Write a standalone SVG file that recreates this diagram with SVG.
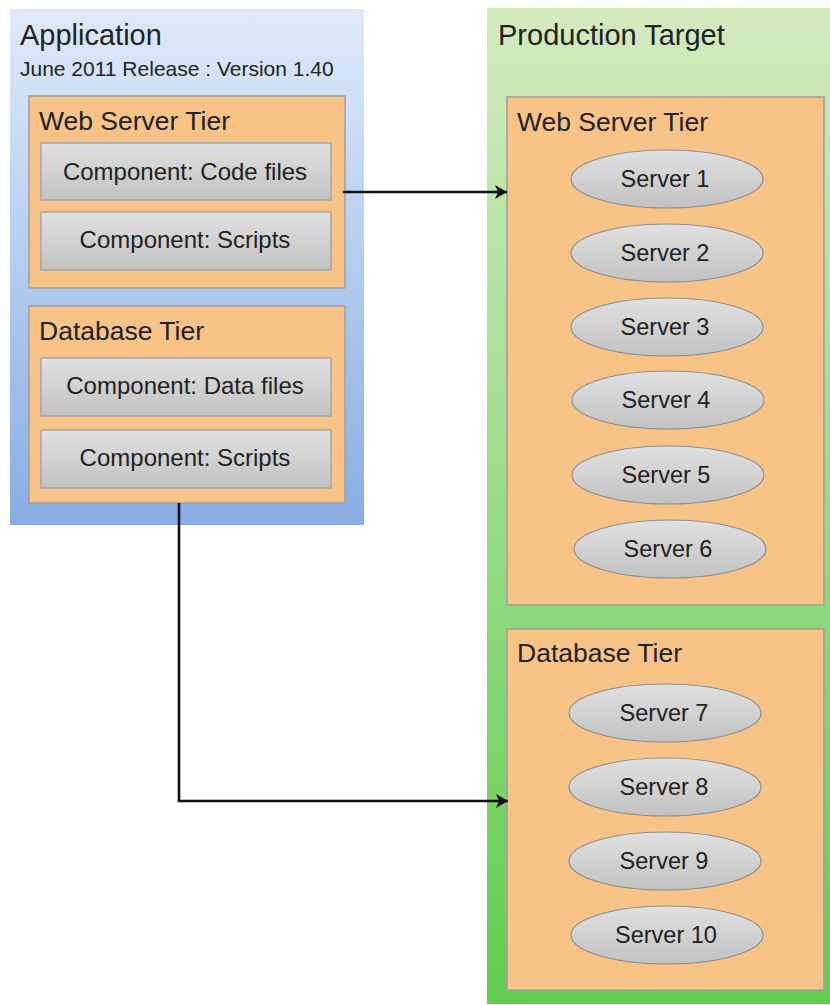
<svg xmlns="http://www.w3.org/2000/svg" width="830" height="1005" viewBox="0 0 830 1005">
<defs>
<linearGradient id="gBlue" x1="0" y1="0" x2="0" y2="1"><stop offset="0" stop-color="#dfeafa"/><stop offset="1" stop-color="#88ade2"/></linearGradient>
<linearGradient id="gGreen" x1="0" y1="0" x2="0" y2="1"><stop offset="0" stop-color="#d4ebc0"/><stop offset="1" stop-color="#60cc50"/></linearGradient>
<linearGradient id="gGray" x1="0" y1="0" x2="0" y2="1"><stop offset="0" stop-color="#e0e0e0"/><stop offset="1" stop-color="#c2c2c2"/></linearGradient>
<marker id="arr" viewBox="0 0 12 14" refX="12" refY="7" markerWidth="12" markerHeight="14" markerUnits="userSpaceOnUse" orient="auto"><path d="M0,0 L12,7 L0,14 L3,7 Z" fill="#111"/></marker>
<style>
text{font-family:"Liberation Sans",Arial,sans-serif;fill:#222}
.title{font-size:29px}
.sub{font-size:21px}
.tier{fill:#f8c387;stroke:#a0a0a0;stroke-width:1.5}
.tl{font-size:26.5px}
.comp{fill:url(#gGray);stroke:#a6a6a6;stroke-width:1.5}
.ct{font-size:24px;text-anchor:middle}
.srv{fill:url(#gGray);stroke:#8e8e8e;stroke-width:1.2}
.st{font-size:23.5px;text-anchor:middle}
.conn{fill:none;stroke:#111;stroke-width:2.6;marker-end:url(#arr)}
</style>
</defs>
<rect width="830" height="1005" fill="#ffffff"/>
<g id="application">
<rect x="10" y="9" width="354" height="516" fill="url(#gBlue)"/>
<text class="title" x="20" y="45">Application</text>
<text class="sub" x="20" y="76">June 2011 Release : Version 1.40</text>
</g>
<g id="app-web-tier">
<rect class="tier" x="29" y="96" width="316" height="192"/>
<text class="tl" x="39" y="130">Web Server Tier</text>
</g>
<g id="comp-code-files">
<rect class="comp" x="41" y="143" width="290" height="57"/>
<text class="ct" x="185" y="180">Component: Code files</text>
</g>
<g id="comp-web-scripts">
<rect class="comp" x="41" y="212" width="290" height="58"/>
<text class="ct" x="185" y="248">Component: Scripts</text>
</g>
<g id="app-db-tier">
<rect class="tier" x="29" y="306" width="316" height="197"/>
<text class="tl" x="39" y="340">Database Tier</text>
</g>
<g id="comp-data-files">
<rect class="comp" x="41" y="358" width="290" height="58"/>
<text class="ct" x="185" y="394">Component: Data files</text>
</g>
<g id="comp-db-scripts">
<rect class="comp" x="41" y="430" width="290" height="58"/>
<text class="ct" x="185" y="466">Component: Scripts</text>
</g>
<g id="production-target">
<rect x="487" y="8" width="343" height="996" fill="url(#gGreen)"/>
<text class="title" x="498" y="45">Production Target</text>
</g>
<g id="prod-web-tier">
<rect class="tier" x="507" y="97" width="317" height="508"/>
<text class="tl" x="517" y="131">Web Server Tier</text>
</g>
<g id="server1"><ellipse class="srv" cx="667" cy="179" rx="96" ry="29"/><text class="st" x="665" y="187">Server 1</text></g>
<g id="server2"><ellipse class="srv" cx="667" cy="253" rx="96" ry="29"/><text class="st" x="665" y="261">Server 2</text></g>
<g id="server3"><ellipse class="srv" cx="667" cy="327" rx="96" ry="29"/><text class="st" x="665" y="335">Server 3</text></g>
<g id="server4"><ellipse class="srv" cx="668" cy="400" rx="96" ry="29"/><text class="st" x="666" y="408">Server 4</text></g>
<g id="server5"><ellipse class="srv" cx="668" cy="475" rx="96" ry="29"/><text class="st" x="666" y="483">Server 5</text></g>
<g id="server6"><ellipse class="srv" cx="670" cy="549" rx="96" ry="29"/><text class="st" x="668" y="557">Server 6</text></g>
<g id="prod-db-tier">
<rect class="tier" x="507" y="629" width="317" height="361"/>
<text class="tl" x="517" y="662">Database Tier</text>
</g>
<g id="server7"><ellipse class="srv" cx="665" cy="713" rx="96" ry="29"/><text class="st" x="664" y="721">Server 7</text></g>
<g id="server8"><ellipse class="srv" cx="665" cy="787" rx="96" ry="29"/><text class="st" x="664" y="795">Server 8</text></g>
<g id="server9"><ellipse class="srv" cx="665" cy="861" rx="96" ry="29"/><text class="st" x="664" y="869">Server 9</text></g>
<g id="server10"><ellipse class="srv" cx="667" cy="935" rx="96" ry="29"/><text class="st" x="666" y="943">Server 10</text></g>
<g id="connectors">
<path class="conn" d="M343,192 L507,192"/>
<path class="conn" d="M179,503 L179,801 L508,801"/>
</g>
</svg>
